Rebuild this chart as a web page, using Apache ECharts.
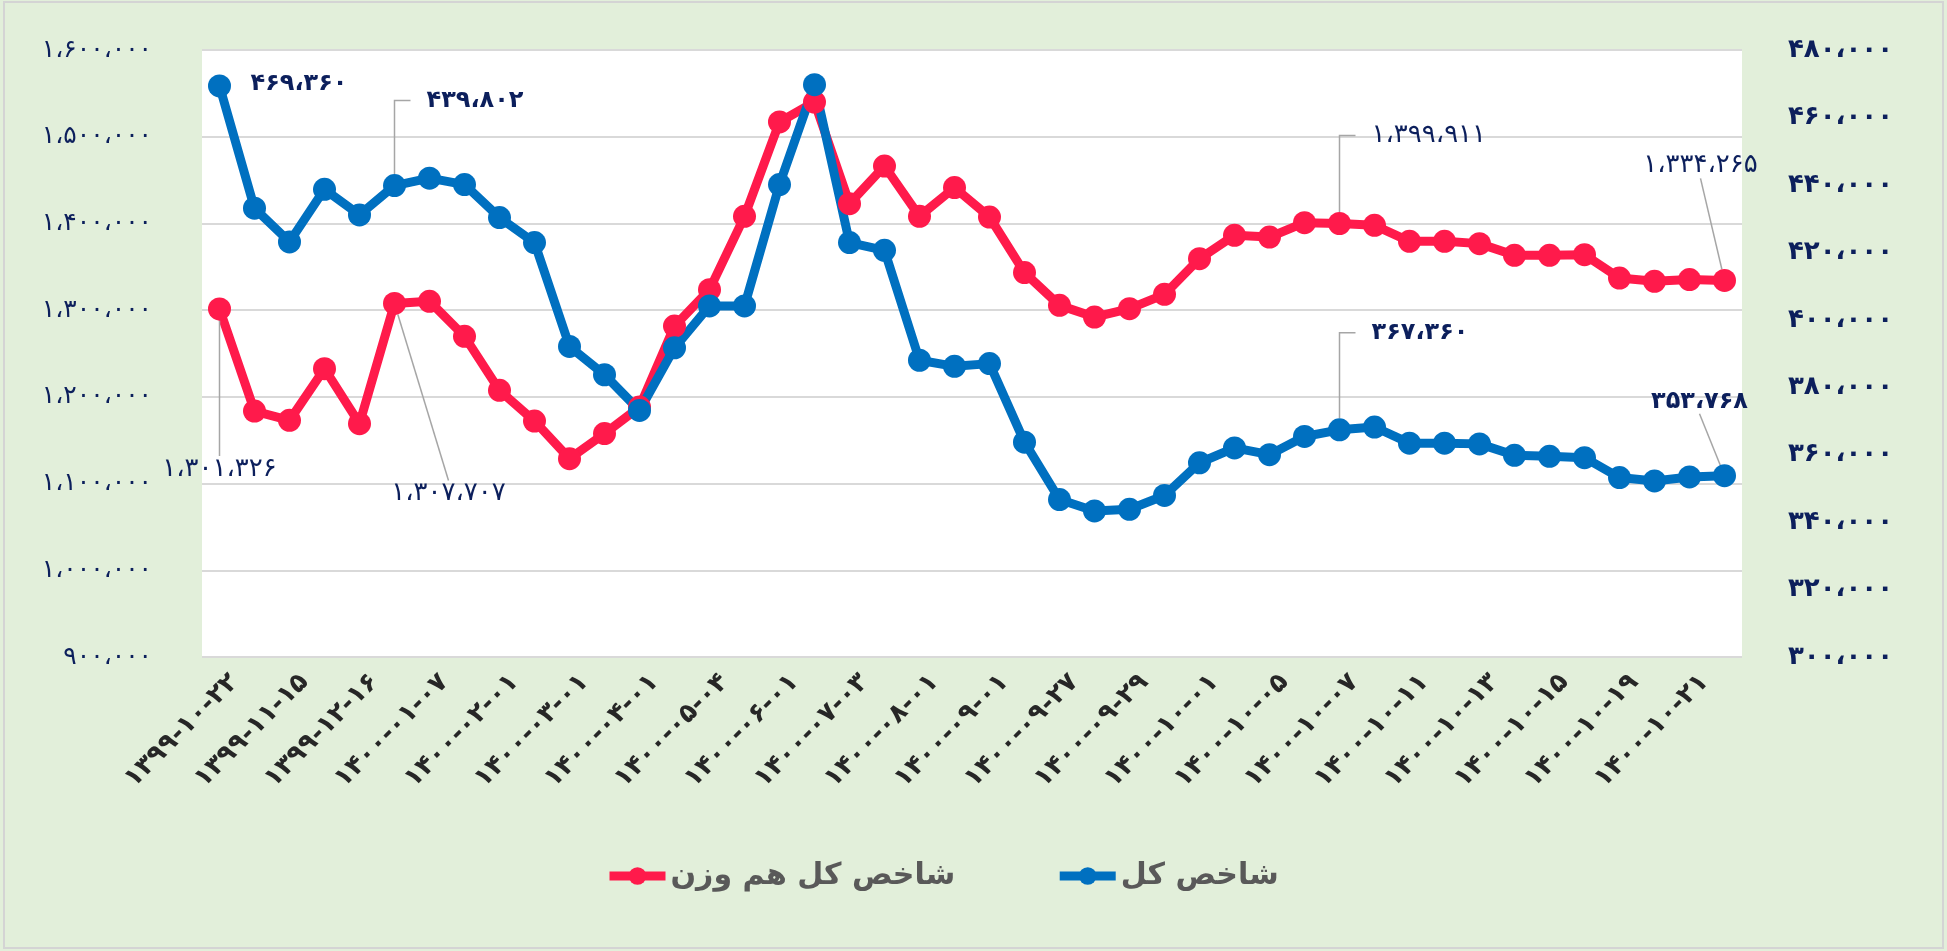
<!DOCTYPE html>
<html>
<head>
<meta charset="utf-8">
<title>شاخص کل و شاخص کل هم وزن</title>
<script src="https://cdn.jsdelivr.net/npm/echarts@6.0.0/dist/echarts.min.js"></script>
<style>
  html, body { margin: 0; padding: 0; background: #e2efda; }
  #chart { width: 1947px; height: 951px; }
</style>
</head>
<body>
<div id="chart"></div>
<script>
// تاریخ ها (هر دو نقطه یک برچسب دیده می شود)
const categories = [
  '۱۳۹۹-۱۰-۲۲', '۱۳۹۹-۱۱-۰۱', '۱۳۹۹-۱۱-۱۵', '۱۳۹۹-۱۲-۰۲', '۱۳۹۹-۱۲-۱۶', '۱۳۹۹-۱۲-۲۶',
  '۱۴۰۰-۰۱-۰۷', '۱۴۰۰-۰۱-۱۸', '۱۴۰۰-۰۲-۰۱', '۱۴۰۰-۰۲-۱۵', '۱۴۰۰-۰۳-۰۱', '۱۴۰۰-۰۳-۱۵',
  '۱۴۰۰-۰۴-۰۱', '۱۴۰۰-۰۴-۱۵', '۱۴۰۰-۰۵-۰۴', '۱۴۰۰-۰۵-۱۷', '۱۴۰۰-۰۶-۰۱', '۱۴۰۰-۰۶-۱۵',
  '۱۴۰۰-۰۷-۰۳', '۱۴۰۰-۰۷-۱۷', '۱۴۰۰-۰۸-۰۱', '۱۴۰۰-۰۸-۱۶', '۱۴۰۰-۰۹-۰۱', '۱۴۰۰-۰۹-۱۵',
  '۱۴۰۰-۰۹-۲۷', '۱۴۰۰-۰۹-۲۸', '۱۴۰۰-۰۹-۲۹', '۱۴۰۰-۰۹-۳۰', '۱۴۰۰-۱۰-۰۱', '۱۴۰۰-۱۰-۰۴',
  '۱۴۰۰-۱۰-۰۵', '۱۴۰۰-۱۰-۰۶', '۱۴۰۰-۱۰-۰۷', '۱۴۰۰-۱۰-۰۸', '۱۴۰۰-۱۰-۱۱', '۱۴۰۰-۱۰-۱۲',
  '۱۴۰۰-۱۰-۱۳', '۱۴۰۰-۱۰-۱۴', '۱۴۰۰-۱۰-۱۵', '۱۴۰۰-۱۰-۱۸', '۱۴۰۰-۱۰-۱۹', '۱۴۰۰-۱۰-۲۰',
  '۱۴۰۰-۱۰-۲۱', '۱۴۰۰-۱۰-۲۲'
]

// شاخص کل هم وزن - محور چپ
const weightedIndex = [
  1301326, 1183600, 1172900, 1232500, 1169100, 1307707, 1310200, 1269800, 1207500, 1172100,
  1128700, 1157600, 1188200, 1281700, 1323600, 1408200, 1517000, 1540000, 1422800, 1466200,
  1408200, 1441300, 1407400, 1343300, 1305500, 1292000, 1301700, 1318200, 1359400, 1386300,
  1384300, 1400900, 1399911, 1397800, 1379400, 1379400, 1376700, 1363200, 1363200, 1364000,
  1337000, 1333200, 1335200, 1334265
]

// شاخص کل - محور راست
const totalIndex = [
  469360, 433100, 423100, 438700, 431100, 439802, 442000, 440100, 430300, 422900,
  392100, 383700, 373100, 391700, 404100, 404100, 440100, 469700, 422900, 420600,
  388000, 386200, 387000, 363700, 346700, 343300, 343800, 347900, 357600, 362000,
  360000, 365400, 367360, 368200, 363400, 363400, 363200, 359800, 359500, 359100,
  353200, 352200, 353400, 353768
]

// نقاطی که مقدارشان نوشته شده
const labeledPoints = [0, 5, 32, 43]

const RED = '#ff1a4b'
const BLUE = '#0070c0'
const NAVY = '#0c1f5c'
const FONT = 'DejaVu Sans'
const ELBOW = 16

// جای برچسب نسبت به نقطه: [dx, dy, align, نوع خط راهنما]
const weightedLabelPos = {
  0: [0, 160, 'center', 'straight'],
  5: [54, 190, 'center', 'straight'],
  32: [ELBOW, -88, 'left', 'elbow'],
  43: [-24, -115, 'center', 'straight']
}
const totalLabelPos = {
  0: [31, -2, 'left', 'none'],
  5: [ELBOW, -85, 'left', 'elbow'],
  32: [ELBOW, -97, 'left', 'elbow'],
  43: [-25, -74, 'center', 'straight']
}

function faNum(n) {
  return String(Math.round(n))
    .replace(/\B(?=(\d{3})+(?!\d))/g, '،')
    .replace(/\d/g, d => '۰۱۲۳۴۵۶۷۸۹'[d])
}

function buildData(values, pos) {
  return values.map((v, i) => {
    if (labeledPoints.indexOf(i) === -1) return v
    const kind = pos[i][3]
    const item = { value: v, label: { show: true }, labelLine: { show: kind !== 'none' } }
    if (kind === 'elbow') {
      // خط شکسته: عمودی از نقطه و بعد افقی تا برچسب
      item.label.padding = [0, 40, 0, 16]
      item.label.backgroundColor = 'transparent'
      item.labelLine.length2 = ELBOW
    }
    return item
  })
}

function layoutFor(pos) {
  return function(params) {
    const o = pos[params.dataIndex]
    if (!o) return {}
    const r = params.rect
    return {
      x: r.x + r.width / 2 + o[0],
      y: r.y + r.height / 2 + o[1],
      align: o[2],
      verticalAlign: 'middle'
    }
  }
}

const chart = echarts.init(document.getElementById('chart'))
const option = {
  animation: false,
  backgroundColor: '#e2efda',
  graphic: [
    {
      type: 'rect',
      shape: { x: 4, y: 2, width: 1939, height: 946 },
      style: { fill: 'none', stroke: '#d4d4d4', lineWidth: 2 },
      silent: true
    }
  ],
  grid: {
    left: 202,
    right: 205,
    top: 50,
    bottom: 294,
    containLabel: false,
    show: true,
    backgroundColor: '#ffffff',
    borderWidth: 0
  },
  legend: {
    left: 600,
    top: 856,
    itemWidth: 56,
    itemHeight: 22,
    itemGap: 100,
    lineStyle: { width: 9 },
    textStyle: { fontFamily: FONT, fontSize: 30, fontWeight: 'bold', color: '#595959' }
  },
  xAxis: {
    type: 'category',
    data: categories,
    boundaryGap: true,
    axisLine: { show: false },
    axisTick: { show: false },
    axisLabel: {
      interval: 1,
      rotate: 45,
      margin: 36,
      padding: [0, -21, 0, 0],
      fontFamily: FONT,
      fontSize: 26,
      fontWeight: 'bold',
      color: '#262626'
    }
  },
  yAxis: [
    {
      type: 'value',
      position: 'left',
      min: 900000,
      max: 1600000,
      interval: 100000,
      axisLine: { show: false },
      axisTick: { show: false },
      splitLine: { lineStyle: { color: '#d9d9d9', width: 2 } },
      axisLabel: { formatter: faNum, fontFamily: FONT, fontSize: 25, color: NAVY, margin: 50 }
    },
    {
      type: 'value',
      position: 'right',
      min: 300000,
      max: 480000,
      interval: 20000,
      axisLine: { show: false },
      axisTick: { show: false },
      splitLine: { show: false },
      axisLabel: { formatter: faNum, fontFamily: FONT, fontSize: 26, fontWeight: 'bold', color: NAVY, margin: 46 }
    }
  ],
  series: [
    {
      name: 'شاخص کل هم وزن',
      type: 'line',
      yAxisIndex: 0,
      data: buildData(weightedIndex, weightedLabelPos),
      symbol: 'circle',
      symbolSize: 23,
      showAllSymbol: true,
      lineStyle: { color: RED, width: 9 },
      itemStyle: { color: RED },
      emphasis: { disabled: true },
      label: {
        show: false,
        formatter: p => faNum(p.value),
        fontFamily: FONT,
        fontSize: 26,
        color: NAVY
      },
      labelLine: { lineStyle: { color: '#a6a6a6', width: 1.5 } },
      labelLayout: layoutFor(weightedLabelPos)
    },
    {
      name: 'شاخص کل',
      type: 'line',
      yAxisIndex: 1,
      data: buildData(totalIndex, totalLabelPos),
      symbol: 'circle',
      symbolSize: 23,
      showAllSymbol: true,
      lineStyle: { color: BLUE, width: 9 },
      itemStyle: { color: BLUE },
      emphasis: { disabled: true },
      label: {
        show: false,
        formatter: p => faNum(p.value),
        fontFamily: FONT,
        fontSize: 24,
        fontWeight: 'bold',
        color: NAVY
      },
      labelLine: { lineStyle: { color: '#a6a6a6', width: 1.5 } },
      labelLayout: layoutFor(totalLabelPos)
    }
  ]
}
chart.setOption(option)
</script>
</body>
</html>
